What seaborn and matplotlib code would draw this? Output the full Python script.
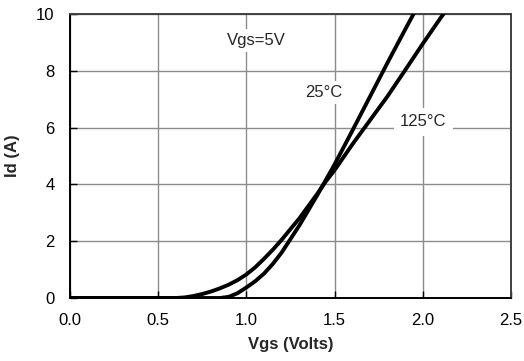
import matplotlib
matplotlib.use("Agg")
import matplotlib.pyplot as plt
import seaborn as sns
import pandas as pd

sns.set_theme(style="white")
plt.rcParams['font.family'] = ['Liberation Sans', 'DejaVu Sans']

# Data
vgs_125 = [0.0, 0.3, 0.6, 0.65, 0.7, 0.75, 0.8, 0.85, 0.9, 0.95, 1.0, 1.05, 1.1, 1.15, 1.2, 1.3, 1.4, 1.45, 1.5, 1.6, 1.7, 1.8, 1.9, 2.0, 2.1, 2.2]
id_125 = [0.0, 0.0, 0.0, 0.02, 0.07, 0.14, 0.23, 0.34, 0.47, 0.63, 0.83, 1.08, 1.38, 1.7, 2.05, 2.8, 3.65, 4.1, 4.5, 5.4, 6.25, 7.1, 8.02, 8.95, 9.85, 10.7]

vgs_25 = [0.0, 0.3, 0.6, 0.85, 0.9, 0.95, 1.0, 1.05, 1.1, 1.15, 1.2, 1.3, 1.4, 1.45, 1.5, 1.6, 1.7, 1.8, 1.9, 2.0]
id_25 = [0.0, 0.0, 0.0, 0.0, 0.04, 0.17, 0.37, 0.59, 0.86, 1.2, 1.6, 2.55, 3.6, 4.15, 4.7, 5.88, 7.08, 8.28, 9.45, 10.6]

x_ticks = [0.0, 0.5, 1.0, 1.5, 2.0, 2.5]
y_ticks = [0, 2, 4, 6, 8, 10]

df = pd.concat([
    pd.DataFrame({"Vgs": vgs_125, "Id": id_125, "T": "125°C"}),
    pd.DataFrame({"Vgs": vgs_25, "Id": id_25, "T": "25°C"}),
])

fig = plt.figure(figsize=(5.24, 3.61), dpi=100)
ax = fig.add_axes([0.1336, 0.1745, 0.8414, 0.7867])

sns.lineplot(data=df, x="Vgs", y="Id", hue="T", palette=["black", "black"],
             linewidth=2.8, ax=ax, legend=False, sort=False, estimator=None, zorder=3)
for ln in ax.lines:
    ln.set_solid_joinstyle("round")
    ln.set_solid_capstyle("round")

ax.set_xlim(0, 2.5)
ax.set_ylim(0, 10)
ax.set_xticks(x_ticks)
ax.set_xticklabels([f"{v:.1f}" for v in x_ticks])
ax.set_yticks(y_ticks)
ax.set_yticklabels([str(v) for v in y_ticks])
ax.grid(True, color="#8c8c8c", linewidth=1.0, zorder=0)
ax.set_axisbelow(True)
for s in ax.spines.values():
    s.set_color("black")
    s.set_linewidth(1.4)
    s.set_visible(True)
ax.spines['top'].set_color('#404040')
ax.spines['right'].set_color('#404040')
ax.tick_params(axis='both', direction='in', length=5, width=1, color='black',
               labelsize=12, pad=11, labelcolor='black')
ax.tick_params(axis='x', bottom=True)
ax.tick_params(axis='y', left=True)

ax.set_xlabel("Vgs (Volts)", fontsize=12, fontweight="bold", labelpad=6)
ax.set_ylabel("Id (A)", fontsize=12, fontweight="bold", labelpad=12)

bb = dict(boxstyle="square,pad=0.25", facecolor="white", edgecolor="none")
ax.text(1.058, 9.06, "Vgs=5V", fontsize=12, ha="center", va="center", bbox=bb, zorder=2)
ax.text(1.44, 7.23, "25°C", fontsize=12, ha="center", va="center", bbox=bb, zorder=2)
ax.text(2.004, 6.2, "125°C", fontsize=12, ha="center", va="center",
        bbox=dict(boxstyle="square,pad=0.4", facecolor="white", edgecolor="none"), zorder=2)

fig.savefig("out.png", dpi=100)
